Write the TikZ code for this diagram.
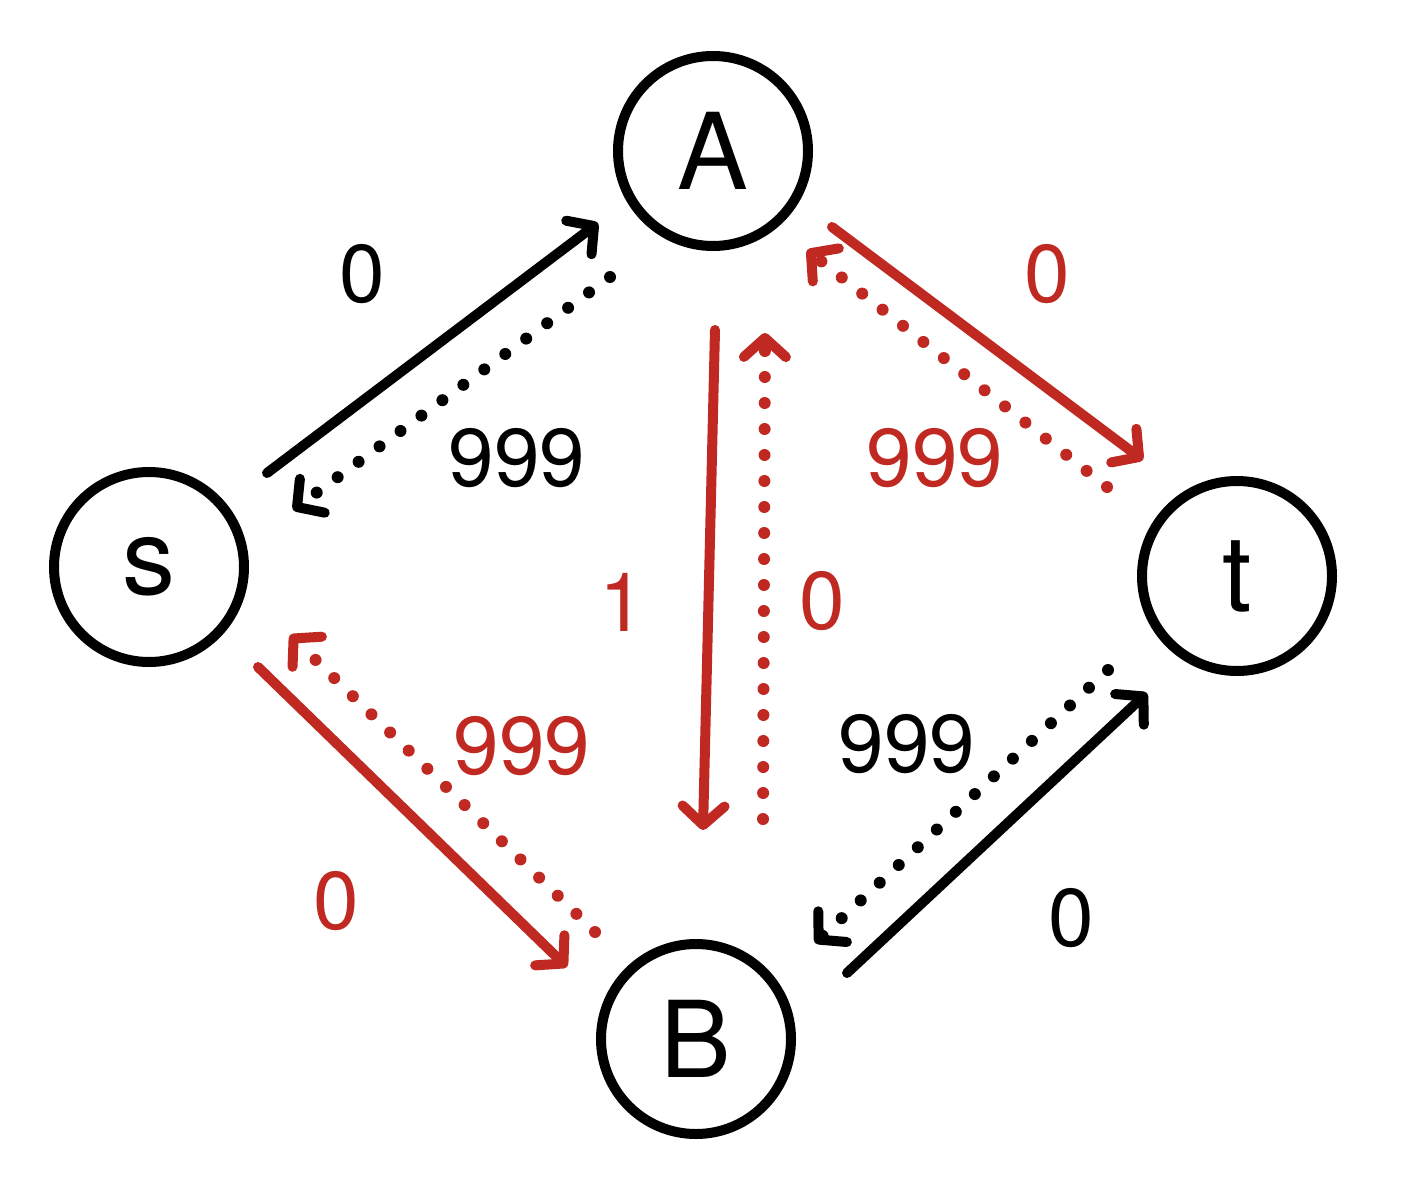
\documentclass[tikz,border=0pt]{standalone}
\usepackage{fontspec}
\setmainfont{TeX Gyre Heros}
\usetikzlibrary{arrows.meta,calc}
\definecolor{myred}{RGB}{192,40,34}
\begin{document}
\begin{tikzpicture}[x=1pt,y=-1pt,
  vertex/.style={circle,draw=black,line width=10pt,minimum size=190pt,inner sep=0pt,font=\fontsize{106}{120}\selectfont},
  lbl/.style={anchor=base,inner sep=0pt,font=\fontsize{82}{90}\selectfont},
  barbtip/.style={-{Straight Barb[length=19pt,width=42pt,line width=10pt,round]}},
  solidarr/.style={line width=10pt,line cap=round,line join=round,barbtip},
  dotarr/.style={line width=12pt,line cap=round,line join=round,dash pattern=on 0pt off 26pt,barbtip},
]
\useasboundingbox[fill=white] (0,0) rectangle (1421,1201);
\node[vertex] (s) at (149,567) {s};
\node[vertex] (A) at (713,151) {A};
\node[vertex] (t) at (1237,576) {t};
\node[vertex] (B) at (696,1039) {B};
% s - A
\draw[solidarr,black] ($(s)+(118,-94)$) -- ($(A)+(-115,72)$);
\draw[dotarr,black] ($(A)+(-103,126)$) -- ($(s)+(144,-57)$);
% A - t
\draw[solidarr,myred] ($(A)+(119,76)$) -- ($(t)+(-94,-116)$);
\draw[dotarr,myred] ($(t)+(-130,-89)$) -- ($(A)+(94,99)$);
% A - B
\draw[solidarr,myred] ($(A)+(2,179)$) -- ($(B)+(7,-209)$);
\draw[dotarr,myred] ($(B)+(67,-220)$) -- ($(A)+(52,182)$);
% s - B
\draw[solidarr,myred] ($(s)+(109,100)$) -- ($(B)+(-129,-72)$);
\draw[dotarr,myred] ($(B)+(-101,-107)$) -- ($(s)+(141,68)$);
% B - t
\draw[solidarr,black] ($(B)+(151,-66)$) -- ($(t)+(-90,117)$);
\draw[dotarr,black] ($(t)+(-129,94)$) -- ($(B)+(119,-96)$);
% labels
\node[lbl,black] (l1) at (362,302) {0};
\node[lbl,black] (l2) at (517,486) {999};
\node[lbl,myred] (l3) at (1047,302) {0};
\node[lbl,myred] (l4) at (935,486) {999};
\node[lbl,myred] (l5) at (622,631) {1};
\node[lbl,myred] (l6) at (822,629) {0};
\node[lbl,myred] (l7) at (522,774) {999};
\node[lbl,black] (l8) at (907,772) {999};
\node[lbl,myred] (l9) at (336,929) {0};
\node[lbl,black] (l10) at (1071,946) {0};
\end{tikzpicture}
\end{document}
